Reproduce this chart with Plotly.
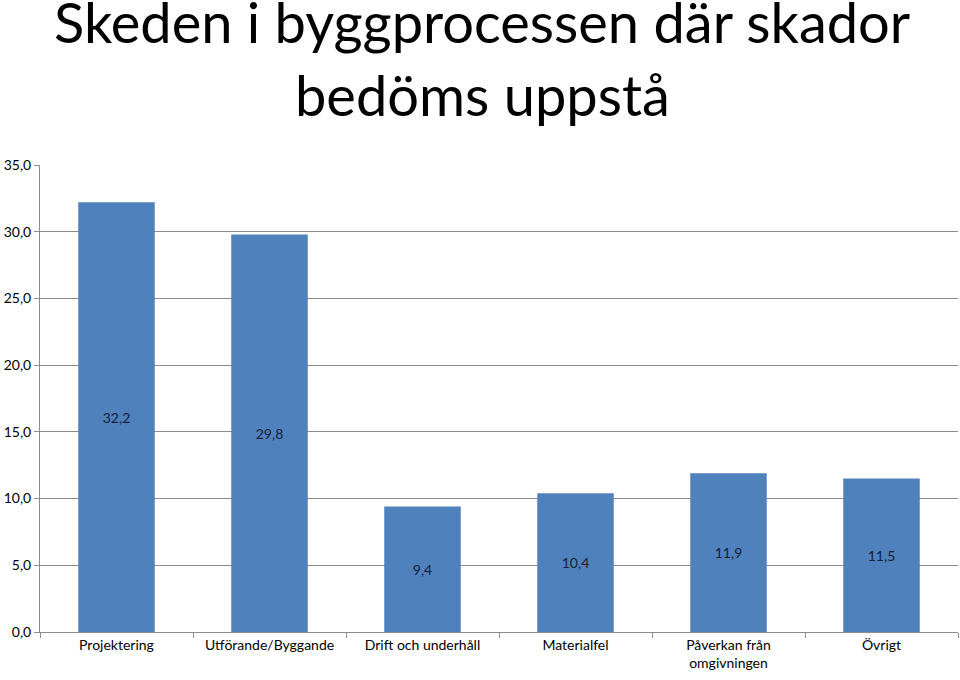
import plotly.graph_objects as go

categories = ["Projektering", "Utförande/Byggande", "Drift och underhåll", "Materialfel",
              "Påverkan från<br>omgivningen", "Övrigt"]
values = [32.2, 29.8, 9.4, 10.4, 11.9, 11.5]
labels = ["32,2", "29,8", "9,4", "10,4", "11,9", "11,5"]
yticks = [0, 5, 10, 15, 20, 25, 30, 35]
yticklabels = ["0,0", "5,0", "10,0", "15,0", "20,0", "25,0", "30,0", "35,0"]
title_lines = ["Skeden i byggprocessen där skador", "bedöms uppstå"]

FONT = "Lato"

fig = go.Figure(go.Bar(
    x=categories, y=values, text=labels,
    textposition="inside", insidetextanchor="middle",
    textfont=dict(family=FONT, size=14, color="#12203a"),
    marker=dict(color="#4F81BD", line=dict(width=0)),
    cliponaxis=False,
))

fig.update_layout(
    width=960, height=680,
    paper_bgcolor="white", plot_bgcolor="white",
    margin=dict(l=40, r=2, t=165, b=48),
    bargap=0.5,
    showlegend=False,
    font=dict(family=FONT, size=14, color="#000000"),
    uniformtext=dict(minsize=10, mode="show"),
)
for line, ypos in zip(title_lines, [1.308, 1.152]):
    fig.add_annotation(text=line, xref="paper", yref="paper", x=0.482, y=ypos,
                       xanchor="center", yanchor="middle", showarrow=False,
                       font=dict(family=FONT, size=56, color="#000000"))

fig.update_yaxes(range=[0, 35], tickvals=yticks, ticktext=yticklabels,
                 showgrid=True, gridcolor="#8c8c8c", gridwidth=1,
                 showline=True, linecolor="#8c8c8c", ticks="outside", ticklen=5,
                 tickcolor="#8c8c8c", zeroline=False,
                 tickfont=dict(family=FONT, size=14, color="#000000"))
fig.update_xaxes(showline=True, linecolor="#8c8c8c", ticks="outside", ticklen=5,
                 tickcolor="#8c8c8c", tickson="boundaries",
                 tickfont=dict(family=FONT, size=14, color="#000000"))

fig.write_html("out.html")
